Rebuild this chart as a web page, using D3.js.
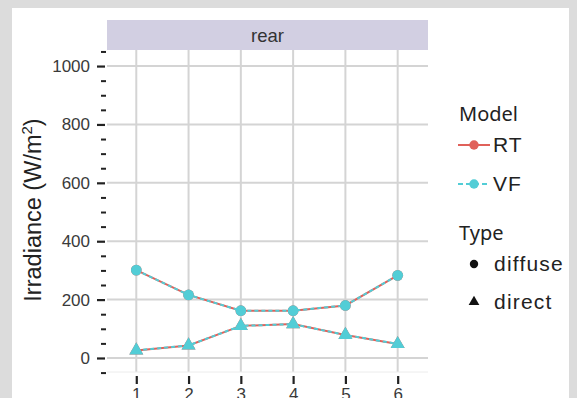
<!DOCTYPE html>
<html><head><meta charset="utf-8">
<script src="https://cdn.jsdelivr.net/npm/d3@7"></script>
<style>
html,body{margin:0;padding:0;background:#dcdcdc;}
svg{display:block;}
</style></head>
<body>
<svg id="c" width="577" height="398"></svg>
<script>
const positions = [1, 2, 3, 4, 5, 6];
const diffuseRT = [301, 216, 162, 162, 180, 283];
const diffuseVF = [301, 216, 162, 162, 180, 283];
const directRT = [26, 43, 110, 116, 79, 48];
const directVF = [26, 43, 110, 116, 79, 48];
const yTicks = [0, 200, 400, 600, 800, 1000];
const yMinor = [-50, 50, 100, 150, 250, 300, 350, 450, 500, 550, 650, 700, 750, 850, 900, 950, 1050];
const facet = "rear";
const models = ["RT", "VF"];
const types = ["diffuse", "direct"];

const colRT = "#e0615a", colVF = "#52cdd6";
const svg = d3.select("#c");
svg.append("rect").attr("x",12).attr("y",8).attr("width",557).attr("height",400).attr("fill","#fff");

const L=107, R=428, T=50, B=372;
const x = d3.scaleLinear().domain([0.44, 6.58]).range([L, R]);
const y = d3.scaleLinear().domain([-48, 1055]).range([B, T]);
const af = "Liberation Sans, Arial";

// strip
svg.append("rect").attr("x",L).attr("y",20).attr("width",R-L).attr("height",30).attr("fill","#d2cfe2");
svg.append("text").attr("x",(L+R)/2).attr("y",42).attr("text-anchor","middle")
  .attr("font-family",af).attr("font-size",18.5).attr("fill","#333").text(facet);

// grid
const g = svg.append("g");
g.selectAll(".hg").data(yTicks).join("line").attr("x1",L).attr("x2",R)
  .attr("y1",d=>y(d)).attr("y2",d=>y(d)).attr("stroke","#d4d4d4").attr("stroke-width",2);
g.selectAll(".vg").data(positions).join("line").attr("y1",T).attr("y2",B)
  .attr("x1",d=>x(d)).attr("x2",d=>x(d)).attr("stroke","#d4d4d4").attr("stroke-width",2);
svg.append("line").attr("x1",L).attr("x2",R).attr("y1",B).attr("y2",B).attr("stroke","#ececec").attr("stroke-width",1);

// y axis
const yAxis = d3.axisLeft(y).tickValues(yTicks).tickFormat(d3.format("d")).tickSize(8).tickPadding(7);
const ya = svg.append("g").attr("transform",`translate(${L-2},0)`).call(yAxis);
ya.select(".domain").remove();
ya.selectAll("line").attr("stroke","#222").attr("stroke-width",2.2);
ya.selectAll("text").attr("font-family",af).attr("font-size",17).attr("fill","#3a3a3a");
const yAxisMinor = d3.axisLeft(y).tickValues(yMinor).tickSize(5).tickFormat("");
const ym = svg.append("g").attr("transform",`translate(${L-1},0)`).call(yAxisMinor);
ym.select(".domain").remove();
ym.selectAll("line").attr("stroke","#222").attr("stroke-width",2);

// x axis
const xAxis = d3.axisBottom(x).tickValues(positions).tickFormat(d3.format("d")).tickSize(8).tickPadding(4);
const xa = svg.append("g").attr("transform",`translate(0,${B+4})`).call(xAxis);
xa.select(".domain").remove();
xa.selectAll("line").attr("stroke","#222").attr("stroke-width",2.2);
xa.selectAll("text").attr("font-family",af).attr("font-size",17).attr("fill","#3a3a3a");

// y title
svg.append("text").attr("transform","translate(41,210) rotate(-90)").attr("text-anchor","middle")
  .attr("font-family",af).attr("font-size",23.5).attr("fill","#222")
  .html('Irradiance (W/m<tspan dy="-9" font-size="15">2</tspan><tspan dy="9">)</tspan>');

// lines
const line = d3.line().x((d,i)=>x(positions[i])).y(d=>y(d));
function drawSeries(vals, col, dash, shape){
  svg.append("path").datum(vals).attr("d",line).attr("fill","none").attr("stroke",col)
    .attr("stroke-width",2).attr("stroke-dasharray",dash);
  const sym = d3.symbol().type(shape==="c"?d3.symbolCircle:d3.symbolTriangle).size(shape==="c"?90:85);
  svg.append("g").selectAll("path").data(vals).join("path")
    .attr("transform",(d,i)=>`translate(${x(positions[i])},${y(d)})`).attr("d",sym).attr("fill",col);
}
drawSeries(diffuseRT, colRT, null, "c");
drawSeries(directRT, colRT, null, "t");
drawSeries(diffuseVF, colVF, "4,3", "c");
drawSeries(directVF, colVF, "4,3", "t");

// legend
const lf = "Noto Sans, Liberation Sans";
svg.append("text").attr("x",459).attr("y",121).attr("font-family",lf).attr("font-size",20).attr("fill","#222").text("Model");
const legY=[145,184], legC=[colRT,colVF], legD=[null,"5,3"];
models.forEach((m,i)=>{
  svg.append("line").attr("x1",458).attr("x2",490).attr("y1",legY[i]).attr("y2",legY[i])
    .attr("stroke",legC[i]).attr("stroke-width",2).attr("stroke-dasharray",legD[i]);
  svg.append("circle").attr("cx",474).attr("cy",legY[i]).attr("r",4.7).attr("fill",legC[i]);
  svg.append("text").attr("x",493).attr("y",legY[i]+7).attr("font-family",af)
    .attr("font-size",21).attr("letter-spacing",1).attr("fill","#222").text(m);
});
svg.append("text").attr("x",459).attr("y",240).attr("font-family",lf).attr("font-size",20).attr("fill","#222").text("Type");
const tY=[264,302];
types.forEach((t,i)=>{
  const sym = d3.symbol().type(i===0?d3.symbolCircle:d3.symbolTriangle).size(i===0?55:50);
  svg.append("path").attr("transform",`translate(474,${tY[i]})`).attr("d",sym).attr("fill","#111");
  svg.append("text").attr("x",494).attr("y",tY[i]+7).attr("font-family",af)
    .attr("font-size",21).attr("letter-spacing",1.2).attr("fill","#222").text(t);
});
</script>
</body></html>
